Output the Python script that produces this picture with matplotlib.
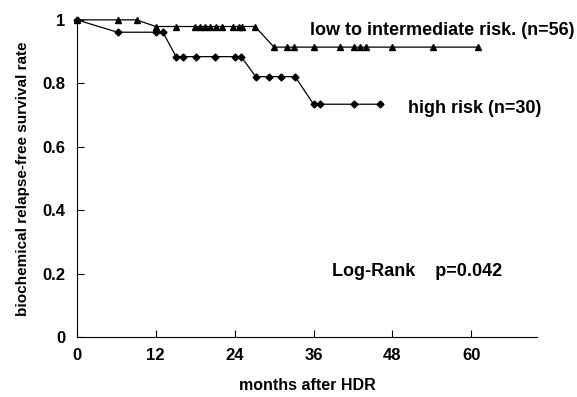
import matplotlib
matplotlib.use('Agg')
import matplotlib.pyplot as plt

# low to intermediate risk (triangles)
low_months = [0, 6.2, 9.1, 12.0, 15.1, 18.0, 18.8, 19.5, 20.3, 21.1, 22.1, 23.8, 24.6, 25.1, 27.1,
              30.0, 32.0, 33.0, 36.0, 40.0, 42.1, 43.1, 43.9, 48.0, 54.2, 61.0]
low_surv = [1.0, 1.0, 1.0, 0.979, 0.979, 0.979, 0.979, 0.979, 0.979, 0.979, 0.979, 0.979, 0.979, 0.979, 0.979,
            0.914, 0.914, 0.914, 0.914, 0.914, 0.914, 0.914, 0.914, 0.914, 0.914, 0.914]

# high risk (diamonds)
high_months = [0, 6.2, 12.0, 13.1, 15.1, 16.2, 18.2, 21.0, 24.1, 25.0, 27.2, 29.2, 31.1, 33.2, 36.0, 37.0, 42.1, 46.1]
high_surv = [1.0, 0.961, 0.961, 0.961, 0.884, 0.884, 0.884, 0.884, 0.884, 0.884,
             0.821, 0.821, 0.821, 0.821, 0.734, 0.734, 0.734, 0.734]

x_ticks = [0, 12, 24, 36, 48, 60]
y_ticks = [0, 0.2, 0.4, 0.6, 0.8, 1.0]
y_tick_labels = ['0', '0.2', '0.4', '0.6', '0.8', '1']

plt.rcParams['font.family'] = ['Liberation Sans', 'DejaVu Sans']

fig = plt.figure(figsize=(5.77, 3.97), dpi=100)
ax = fig.add_axes([0.133, 0.151, 0.798, 0.799])

ax.plot(low_months, low_surv, color='black', linewidth=0.9, marker='^', markersize=4.5,
        clip_on=False)
ax.plot(high_months, high_surv, color='black', linewidth=0.9, marker='D', markersize=3.5,
        clip_on=False)

ax.set_xlim(0, 70)
ax.set_ylim(0, 1)
ax.set_xticks(x_ticks)
ax.set_yticks(y_ticks)
ax.set_yticklabels(y_tick_labels)
ax.tick_params(direction='in', length=5, width=0.8, labelsize=12)
for lab in ax.get_xticklabels() + ax.get_yticklabels():
    lab.set_fontweight('bold')
ax.tick_params(axis='x', pad=8)
ax.tick_params(axis='y', pad=8)

ax.spines['top'].set_visible(False)
ax.spines['right'].set_visible(False)

ax.set_xlabel('months after HDR', fontsize=11.5, fontweight='bold', labelpad=11)
ax.set_ylabel('biochemical relapse-free survival rate', fontsize=11, fontweight='bold', labelpad=9)

ax.text(35.5, 0.968, 'low to intermediate risk. (n=56)', fontsize=13, fontweight='bold', va='center')
ax.text(50.3, 0.72, 'high risk (n=30)', fontsize=13, fontweight='bold', va='center')
ax.text(38.8, 0.206, 'Log-Rank    p=0.042', fontsize=13, fontweight='bold', va='center')

fig.savefig('out.png', dpi=100)
